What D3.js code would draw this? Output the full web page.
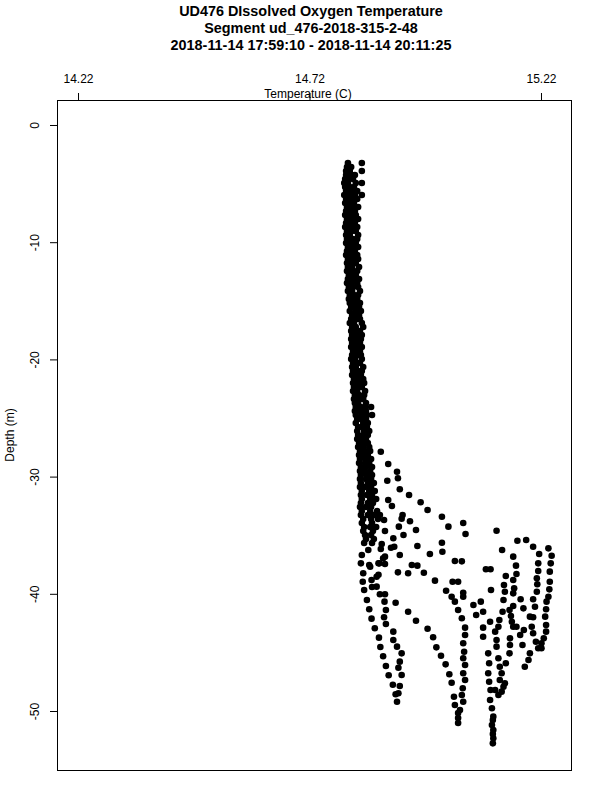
<!DOCTYPE html>
<html>
<head>
<meta charset="utf-8">
<script src="https://cdn.jsdelivr.net/npm/d3@7"></script>
<style>
  body { margin: 0; background: #fff; }
  svg { display: block; font-family: "Liberation Sans", Arial, Helvetica, sans-serif; }
</style>
</head>
<body>
<div id="vis"></div>
<script>
var titleLines = [
  'UD476 DIssolved Oxygen Temperature',
  'Segment ud_476-2018-315-2-48',
  '2018-11-14 17:59:10 - 2018-11-14 20:11:25'
];
var xLabel = 'Temperature (C)';
var yLabel = 'Depth (m)';
var xTicks = [14.22, 14.72, 15.22];
var yTicks = [0, -10, -20, -30, -40, -50];

// upper mixed layer: [depth, temp, temp, ...]
var upperRows = [
  [-3.24, 14.803, 14.833], [-3.58, 14.801, 14.810], [-3.92, 14.799, 14.807, 14.833],
  [-4.27, 14.799, 14.812, 14.818], [-4.61, 14.797, 14.805, 14.814], [-4.95, 14.795, 14.803, 14.820, 14.833],
  [-5.29, 14.797, 14.807, 14.816], [-5.63, 14.799, 14.810, 14.823], [-5.97, 14.795, 14.805, 14.818, 14.833],
  [-6.31, 14.799, 14.812, 14.823], [-6.66, 14.797, 14.807, 14.816], [-7.00, 14.801, 14.812, 14.825],
  [-7.34, 14.799, 14.807, 14.818], [-7.68, 14.797, 14.810, 14.820], [-8.02, 14.801, 14.814, 14.825],
  [-8.36, 14.799, 14.807, 14.818], [-8.70, 14.797, 14.810, 14.823], [-9.04, 14.801, 14.812, 14.820],
  [-9.39, 14.799, 14.807, 14.825], [-9.73, 14.801, 14.814, 14.823], [-10.07, 14.799, 14.810, 14.820],
  [-10.41, 14.803, 14.812, 14.825], [-10.75, 14.801, 14.810, 14.818], [-11.09, 14.799, 14.812, 14.823],
  [-11.43, 14.803, 14.814, 14.825], [-11.77, 14.801, 14.810, 14.820], [-12.12, 14.803, 14.812, 14.827],
  [-12.46, 14.801, 14.814, 14.823], [-12.80, 14.805, 14.812, 14.820], [-13.14, 14.803, 14.816, 14.827],
  [-13.48, 14.801, 14.810, 14.823], [-13.82, 14.805, 14.814, 14.825], [-14.16, 14.803, 14.812, 14.829],
  [-14.51, 14.807, 14.816, 14.825], [-14.85, 14.805, 14.814, 14.823], [-15.19, 14.807, 14.818, 14.829],
  [-15.53, 14.810, 14.816, 14.827], [-15.87, 14.807, 14.820, 14.831], [-16.21, 14.812, 14.818, 14.827],
  [-16.55, 14.810, 14.823, 14.829], [-16.89, 14.807, 14.816, 14.833], [-17.24, 14.812, 14.820, 14.836],
  [-17.58, 14.810, 14.818, 14.829], [-17.92, 14.812, 14.823, 14.833], [-18.26, 14.810, 14.820, 14.831],
  [-18.60, 14.812, 14.818, 14.829], [-18.94, 14.810, 14.823, 14.833], [-19.28, 14.814, 14.820, 14.829],
  [-19.63, 14.812, 14.825, 14.831], [-19.97, 14.810, 14.818, 14.833], [-20.31, 14.814, 14.823, 14.829],
  [-20.65, 14.812, 14.820, 14.836], [-20.99, 14.814, 14.825, 14.833], [-21.33, 14.812, 14.820, 14.831],
  [-21.67, 14.816, 14.823, 14.836], [-22.01, 14.814, 14.827, 14.838], [-22.35, 14.816, 14.825, 14.833],
  [-22.70, 14.814, 14.823, 14.840], [-23.04, 14.818, 14.827, 14.838], [-23.38, 14.816, 14.829, 14.836],
  [-23.72, 14.818, 14.825, 14.842], [-24.06, 14.820, 14.831, 14.840, 14.853], [-24.40, 14.818, 14.829, 14.842],
  [-24.74, 14.820, 14.833, 14.844, 14.855], [-25.09, 14.823, 14.831, 14.842], [-25.43, 14.820, 14.836, 14.846],
  [-25.77, 14.825, 14.833, 14.844], [-26.11, 14.823, 14.838, 14.849], [-26.45, 14.825, 14.836, 14.846],
  [-26.79, 14.823, 14.833, 14.842], [-27.13, 14.827, 14.838, 14.846], [-27.47, 14.825, 14.836, 14.849],
  [-27.82, 14.829, 14.840, 14.851], [-28.16, 14.827, 14.838, 14.846], [-28.50, 14.829, 14.842, 14.853],
  [-28.84, 14.827, 14.840, 14.849], [-29.18, 14.831, 14.842, 14.855], [-29.52, 14.829, 14.838, 14.851],
  [-29.86, 14.831, 14.844, 14.855], [-30.20, 14.829, 14.842, 14.853], [-30.55, 14.831, 14.846, 14.859],
  [-30.89, 14.829, 14.840, 14.853], [-31.23, 14.833, 14.849, 14.861], [-31.57, 14.831, 14.844, 14.855],
  [-31.91, 14.833, 14.851, 14.864], [-32.25, 14.831, 14.846, 14.857], [-32.59, 14.829, 14.842, 14.853],
  [-32.94, 14.833, 14.851, 14.866], [-33.28, 14.831, 14.846, 14.859], [-33.62, 14.836, 14.853, 14.868],
  [-33.96, 14.833, 14.855], [-34.30, 14.838, 14.851, 14.864], [-34.64, 14.836, 14.857],
  [-34.98, 14.840, 14.853], [-35.32, 14.842, 14.859], [-35.67, 14.838, 14.855]
];

// spreading below the mixed layer: [temp, depth]
var transitionPoints = [
  [14.874, -27.88], [14.890, -28.92], [14.909, -29.58], [14.911, -30.14], [14.888, -30.35],
  [14.915, -31.08], [14.935, -31.57], [14.960, -32.19], [14.975, -32.85], [15.006, -33.42],
  [15.020, -34.27], [15.034, -37.20], [14.872, -33.28], [14.881, -33.70], [14.921, -33.28],
  [14.919, -33.59], [14.937, -33.81], [14.950, -34.56], [14.913, -34.27], [14.923, -34.98],
  [14.901, -35.26], [14.883, -34.64], [14.876, -35.75], [14.896, -36.07], [14.915, -36.69],
  [14.953, -35.92], [14.980, -36.60], [15.007, -36.41], [15.006, -35.64], [14.941, -37.54],
  [14.953, -37.60], [14.879, -36.97], [14.869, -37.40], [14.849, -37.54], [14.833, -36.69],
  [14.847, -36.26], [14.831, -37.40], [14.890, -32.00], [14.898, -32.51], [15.052, -33.96],
  [15.057, -34.90], [15.124, -34.62], [14.903, -35.98], [14.883, -36.83], [14.874, -36.18],
  [15.049, -37.23], [14.967, -38.20], [14.911, -38.17], [14.933, -38.25], [14.991, -38.88],
  [15.029, -38.97], [15.041, -38.97], [15.101, -37.91], [15.111, -37.91], [15.136, -36.26],
  [15.169, -35.47], [15.188, -35.41], [15.203, -35.98], [15.216, -36.60], [15.236, -36.12],
  [15.243, -36.75], [15.160, -36.83], [15.166, -37.60], [15.167, -38.31], [15.160, -38.82],
  [15.144, -38.48], [15.214, -37.40], [15.214, -38.05], [15.211, -38.68], [15.241, -37.40],
  [15.239, -38.11], [15.239, -38.97], [15.238, -39.62], [15.236, -40.25], [15.212, -39.19],
  [15.211, -39.82], [15.203, -40.47], [15.162, -39.53], [15.160, -39.96], [15.140, -39.25],
  [15.142, -39.82], [15.112, -39.68], [15.052, -39.91], [15.052, -40.25], [15.015, -39.74],
  [15.027, -40.25], [14.865, -38.54], [14.854, -38.82], [14.836, -38.25], [14.835, -38.97],
  [14.838, -39.68], [14.851, -37.69], [14.855, -39.42], [14.865, -39.39], [14.872, -40.04],
  [14.883, -40.04], [14.869, -38.37], [14.871, -37.40], [14.883, -37.46]
];

// deep part of the dives: [temp, depth]
var deepPoints = [
  [15.034, -40.67], [15.041, -41.38], [15.049, -42.09], [15.056, -42.89], [15.074, -40.96],
  [15.090, -40.67], [15.080, -41.81], [15.095, -41.53], [15.110, -42.38], [15.095, -42.89],
  [15.176, -40.47], [15.182, -41.24], [15.152, -41.38], [15.139, -40.53], [15.137, -41.53],
  [15.130, -42.24], [15.128, -42.81], [15.160, -41.04], [15.155, -41.89], [15.160, -42.81],
  [15.207, -41.10], [15.203, -42.00], [15.196, -41.95], [15.232, -40.67], [15.231, -41.32],
  [15.229, -41.95], [15.231, -42.66],
  [14.844, -40.53], [14.849, -41.32], [14.854, -42.12], [14.861, -42.94], [14.870, -43.74],
  [14.873, -44.54], [14.879, -45.33], [14.885, -46.16], [14.891, -46.95], [14.900, -47.76],
  [14.906, -48.57], [14.909, -49.21],
  [14.882, -40.67], [14.885, -41.38], [14.881, -42.00], [14.885, -42.58], [14.901, -43.23],
  [14.901, -43.94], [14.909, -44.51], [14.919, -45.08], [14.915, -45.79], [14.912, -46.31],
  [14.919, -46.93], [14.915, -47.87], [14.912, -48.49],
  [14.906, -40.76], [14.933, -41.53], [14.950, -42.30], [14.975, -42.98], [14.987, -43.71],
  [14.994, -44.57], [15.004, -45.28], [15.014, -46.02], [15.022, -46.87], [15.027, -47.59],
  [15.032, -48.78], [15.034, -49.49], [15.041, -50.17], [15.041, -50.60], [15.041, -51.02],
  [15.056, -43.52], [15.052, -44.22], [15.054, -44.94], [15.052, -45.50], [15.056, -46.08],
  [15.052, -46.78], [15.056, -47.36], [15.051, -48.06], [15.049, -48.63], [15.052, -49.21],
  [15.045, -49.91],
  [15.095, -43.66], [15.106, -45.08], [15.108, -45.93], [15.106, -46.78], [15.108, -47.50],
  [15.111, -48.21], [15.110, -49.06], [15.114, -49.77], [15.116, -50.77], [15.117, -51.62],
  [15.117, -52.33], [15.116, -52.76], [15.117, -50.48], [15.114, -51.19], [15.116, -51.96],
  [15.121, -43.23], [15.124, -43.94], [15.124, -44.51], [15.128, -45.50], [15.131, -46.22],
  [15.135, -46.78], [15.131, -47.36], [15.139, -47.93], [15.135, -48.35], [15.128, -48.63],
  [15.121, -48.21], [15.157, -42.38], [15.153, -43.80], [15.153, -44.37], [15.152, -45.08],
  [15.144, -45.93], [15.142, -47.64], [15.175, -43.52], [15.167, -42.81], [15.180, -44.37],
  [15.200, -42.81], [15.203, -43.37], [15.209, -44.09], [15.214, -44.65], [15.196, -45.08],
  [15.193, -45.65], [15.185, -46.22], [15.221, -44.65], [15.231, -43.23], [15.226, -43.80],
  [15.221, -44.22], [15.183, -43.09]
];

var width = 600;
var height = 800;
var margin = { top: 100, right: 29, bottom: 30, left: 57 };

var svg = d3.select('#vis')
  .append('svg')
  .attr('width', width)
  .attr('height', height);

var x = d3.scaleLinear()
  .domain([14.1746, 15.2848])
  .range([margin.left, width - margin.right]);

var y = d3.scaleLinear()
  .domain([2.133, -55.034])
  .range([margin.top, height - margin.bottom]);

// flatten the mixed layer rows into points
var points = [];
upperRows.forEach(function(r) {
  for (var i = 1; i < r.length; i++) points.push([r[i], r[0]]);
});
points = points.concat(transitionPoints, deepPoints);

// title
svg.append('g')
  .selectAll('text')
  .data(titleLines)
  .enter().append('text')
  .attr('x', 311)
  .attr('y', function(d, i) { return 16 + i * 17; })
  .attr('text-anchor', 'middle')
  .style('font-size', '14.4px')
  .style('font-weight', 'bold')
  .text(function(d) { return d; });

// top axis
var xAxis = svg.append('g')
  .attr('transform', 'translate(0,' + margin.top + ')')
  .call(d3.axisTop(x)
    .tickValues(xTicks)
    .tickSize(7)
    .tickPadding(10)
    .tickFormat(d3.format('.2f')));
xAxis.select('.domain').remove();

// left axis
var yAxis = svg.append('g')
  .attr('transform', 'translate(' + margin.left + ',0)')
  .call(d3.axisLeft(y)
    .tickValues(yTicks)
    .tickSize(7)
    .tickFormat(function(d) { return String(d); }));
yAxis.select('.domain').remove();
yAxis.selectAll('.tick text')
  .attr('transform', 'rotate(-90)')
  .attr('x', 0)
  .attr('y', -18)
  .attr('dy', null)
  .attr('text-anchor', 'middle');

svg.selectAll('.tick text')
  .attr('font-size', null)
  .style('font-size', '12px')
  .style('fill', '#000');
svg.selectAll('.tick line').style('stroke', '#000');
xAxis.attr('font-family', null);
yAxis.attr('font-family', null);

// axis titles
svg.append('text')
  .attr('x', 308)
  .attr('y', 97.5)
  .attr('text-anchor', 'middle')
  .style('font-size', '12px')
  .text(xLabel);

svg.append('text')
  .attr('transform', 'translate(14,' + ((margin.top + height - margin.bottom) / 2) + ') rotate(-90)')
  .attr('text-anchor', 'middle')
  .style('font-size', '12px')
  .text(yLabel);

// plot frame
svg.append('rect')
  .attr('x', margin.left + 0.5)
  .attr('y', margin.top + 0.5)
  .attr('width', width - margin.left - margin.right)
  .attr('height', height - margin.top - margin.bottom)
  .attr('fill', 'none')
  .attr('stroke', '#000');

// observations
svg.append('g')
  .selectAll('circle')
  .data(points)
  .enter().append('circle')
  .attr('cx', function(d) { return x(d[0]); })
  .attr('cy', function(d) { return y(d[1]); })
  .attr('r', 3.3)
  .attr('fill', '#000');
</script>
</body>
</html>
